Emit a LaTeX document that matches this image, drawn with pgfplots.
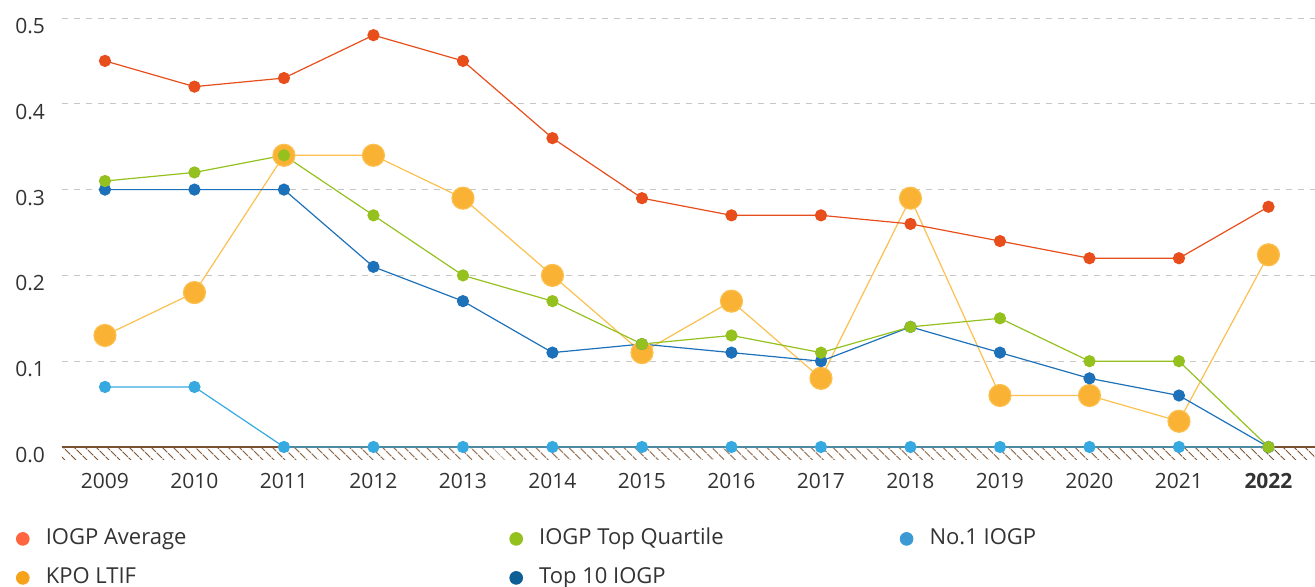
\documentclass[border=0pt]{standalone}
\usepackage{fontspec}
\setmainfont{Open Sans}
\usepackage{pgfplots}
\pgfplotsset{compat=1.18}
\usetikzlibrary{patterns.meta}
\definecolor{cRed}{HTML}{E84E1B}
\definecolor{cOrange}{HTML}{F9B233}
\definecolor{cOrangeL}{HTML}{FBC04F}
\definecolor{cGreen}{HTML}{95C11F}
\definecolor{cBlue}{HTML}{1D71B8}
\definecolor{cLBlue}{HTML}{36A9E1}
\definecolor{lRed}{HTML}{FF6640}
\definecolor{lOrange}{HTML}{F7A21B}
\definecolor{lLBlue}{HTML}{3B99D4}
\definecolor{lBlue}{HTML}{0D5F96}
\definecolor{cBrown}{HTML}{7B5230}
\definecolor{cText}{HTML}{333333}
\begin{document}
\begin{tikzpicture}
\begin{axis}[
  name=ax,
  width=626.5pt, height=223.5pt, scale only axis,
  xmin=2008.52, xmax=2022.52, ymin=0, ymax=0.521,
  clip=false,
  axis line style={draw=none}, tick style={draw=none},
  xtick={2009,2010,2011,2012,2013,2014,2015,2016,2017,2018,2019,2020,2021,2022},
  xticklabels={2009,2010,2011,2012,2013,2014,2015,2016,2017,2018,2019,2020,2021,\textbf{2022}},
  ytick={0,0.1,0.2,0.3,0.4,0.5},
  /pgf/number format/fixed, /pgf/number format/fixed zerofill, /pgf/number format/precision=1,
  /pgf/number format/assume math mode=true,
  yticklabel style={anchor=west, inner sep=0pt, xshift=-23.5pt, yshift=-4pt, font=\fontsize{10.5}{12}\selectfont, text=cText},
  xticklabel style={anchor=north, inner sep=0pt, yshift=-13pt, font=\fontsize{10.5}{12}\selectfont, text=cText},
  ymajorgrids, major grid style={draw=black!22, line width=0.5pt, dash pattern=on 3pt off 3pt},
  legend columns=3,
  legend style={at={(0,0)}, anchor=north west, xshift=-23.2pt, yshift=-40.5pt,
    draw=none, fill=none, inner sep=0pt, column sep=0pt, row sep=9pt,
    font=\fontsize{11}{13}\selectfont, text=cText,
    nodes={inner sep=0pt, text height=8pt, text depth=2.5pt}},
  legend cell align=left,
]
\fill[pattern={Lines[angle=-45,distance=4pt,line width=0.6pt]}, pattern color=cBrown]
  (axis cs:2008.52,0) rectangle ([yshift=-6.5pt]axis cs:2022.52,0);
\draw[cBrown, line width=1.1pt] (axis cs:2008.52,0) -- (axis cs:2022.52,0);

\addplot[forget plot, color=cOrangeL, line width=0.6pt, mark=*, mark size=5.5pt, mark options={draw=none, fill=cOrange}] coordinates {
(2009,0.13) (2010,0.18) (2011,0.34) (2012,0.34) (2013,0.29) (2014,0.20) (2015,0.11)
(2016,0.17) (2017,0.08) (2018,0.29) (2019,0.06) (2020,0.06) (2021,0.03) (2022,0.224)};
\addplot[forget plot, color=cRed, line width=0.6pt, mark=*, mark size=2.75pt, mark options={draw=none, fill=cRed}] coordinates {
(2009,0.45) (2010,0.42) (2011,0.43) (2012,0.48) (2013,0.45) (2014,0.36) (2015,0.29)
(2016,0.27) (2017,0.27) (2018,0.26) (2019,0.24) (2020,0.22) (2021,0.22) (2022,0.28)};
\addplot[forget plot, color=cLBlue, line width=0.6pt, mark=*, mark size=2.75pt, mark options={draw=none, fill=cLBlue}] coordinates {
(2009,0.07) (2010,0.07) (2011,0) (2012,0) (2013,0) (2014,0) (2015,0)
(2016,0) (2017,0) (2018,0) (2019,0) (2020,0) (2021,0) (2022,0)};
\addplot[forget plot, color=cBlue, line width=0.6pt, mark=*, mark size=2.75pt, mark options={draw=none, fill=cBlue}] coordinates {
(2009,0.30) (2010,0.30) (2011,0.30) (2012,0.21) (2013,0.17) (2014,0.11) (2015,0.12)
(2016,0.11) (2017,0.10) (2018,0.14) (2019,0.11) (2020,0.08) (2021,0.06) (2022,0)};
\addplot[forget plot, color=cGreen, line width=0.6pt, mark=*, mark size=2.75pt, mark options={draw=none, fill=cGreen}] coordinates {
(2009,0.31) (2010,0.32) (2011,0.34) (2012,0.27) (2013,0.20) (2014,0.17) (2015,0.12)
(2016,0.13) (2017,0.11) (2018,0.14) (2019,0.15) (2020,0.10) (2021,0.10) (2022,0)};

\addlegendimage{legend image code/.code={\fill[lRed] (3.2pt,0pt) circle (3.2pt); \path[draw=none] (0pt,0pt) (14.7pt,0pt);}}
\addlegendentry{\makebox[231.8pt][l]{IOGP Average}}
\addlegendimage{legend image code/.code={\fill[cGreen] (3.2pt,0pt) circle (3.2pt); \path[draw=none] (0pt,0pt) (14.7pt,0pt);}}
\addlegendentry{\makebox[180.3pt][l]{IOGP Top Quartile}}
\addlegendimage{legend image code/.code={\fill[lLBlue] (3.2pt,0pt) circle (3.2pt); \path[draw=none] (0pt,0pt) (14.7pt,0pt);}}
\addlegendentry{No.1 IOGP}
\addlegendimage{legend image code/.code={\fill[lOrange] (3.2pt,0pt) circle (3.2pt); \path[draw=none] (0pt,0pt) (14.7pt,0pt);}}
\addlegendentry{\makebox[231.8pt][l]{KPO LTIF}}
\addlegendimage{legend image code/.code={\fill[lBlue] (3.2pt,0pt) circle (3.2pt); \path[draw=none] (0pt,0pt) (14.7pt,0pt);}}
\addlegendentry{\makebox[180.3pt][l]{Top 10 IOGP}}
\end{axis}
\pgfresetboundingbox
\path ([xshift=-31pt,yshift=-70pt]ax.south west) rectangle (ax.north east);
\end{tikzpicture}
\end{document}
